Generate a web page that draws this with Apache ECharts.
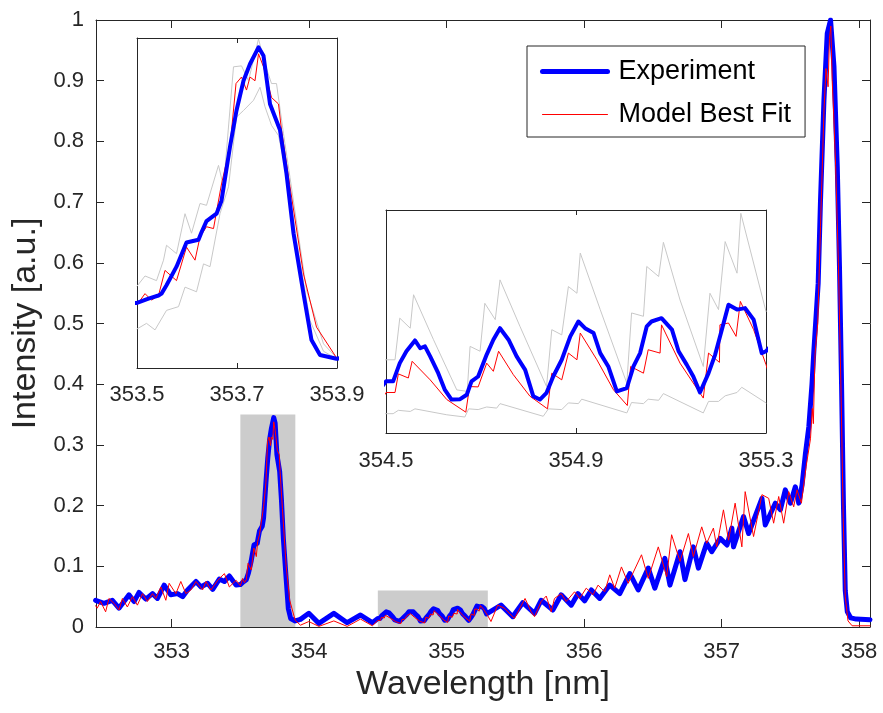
<!DOCTYPE html>
<html>
<head>
<meta charset="utf-8">
<script src="https://cdn.jsdelivr.net/npm/echarts@6.0.0/dist/echarts.min.js"></script>
<style>
  html, body { margin: 0; padding: 0; background: #fff; }
  #main { width: 883px; height: 713px; }
</style>
</head>
<body>
<div id="main"></div>
<script>
// measured spectrum, [wavelength nm, intensity]
var experiment = [
  [352.447,0.044],[352.508,0.039],[352.569,0.044],[352.617,0.031],[352.690,0.053],[352.727,0.042],
  [352.763,0.057],[352.812,0.046],[352.861,0.055],[352.897,0.047],[352.946,0.069],[352.994,0.053],
  [353.043,0.055],[353.080,0.050],[353.116,0.061],[353.177,0.075],[353.213,0.066],[353.262,0.072],
  [353.299,0.062],[353.347,0.079],[353.384,0.075],[353.420,0.084],[353.469,0.069],
  [353.500,0.070],[353.523,0.0746],[353.543,0.078],[353.549,0.080],[353.559,0.089],[353.579,0.109],
  [353.599,0.135],[353.623,0.138],[353.629,0.146],[353.639,0.158],[353.659,0.166],[353.669,0.180],
  [353.686,0.238],[353.699,0.277],[353.713,0.309],[353.726,0.327],[353.743,0.345],[353.753,0.336],
  [353.766,0.284],[353.786,0.256],[353.799,0.209],[353.813,0.145],[353.833,0.080],[353.849,0.030],
  [353.866,0.014],[353.899,0.010],
  [353.937,0.0126],[353.998,0.0225],[354.071,0.006],[354.180,0.0225],[354.277,0.0071],[354.374,0.0198],
  [354.460,0.0071],
  [354.500,0.0139],[354.515,0.0139],[354.529,0.0188],[354.543,0.0220],[354.561,0.0249],[354.572,0.0228],
  [354.582,0.0233],[354.593,0.0206],[354.610,0.0161],[354.624,0.0116],[354.638,0.0090],[354.656,0.0091],
  [354.670,0.0103],[354.680,0.0139],[354.694,0.0152],[354.712,0.0211],[354.726,0.0251],[354.740,0.0282],
  [354.758,0.0251],[354.775,0.0206],[354.793,0.0170],[354.810,0.0099],[354.824,0.0090],[354.838,0.0108],
  [354.852,0.0152],[354.870,0.0197],[354.888,0.0260],[354.905,0.0300],[354.919,0.0282],[354.937,0.0269],
  [354.951,0.0215],[354.968,0.0179],[354.986,0.0112],[355.007,0.0121],[355.021,0.0179],[355.035,0.0215],
  [355.049,0.0287],[355.059,0.0300],[355.080,0.0309],[355.102,0.0278],[355.116,0.0220],[355.133,0.0184],
  [355.147,0.0152],[355.161,0.0109],[355.179,0.0161],[355.193,0.0211],[355.207,0.0278],[355.221,0.0345],
  [355.239,0.0332],[355.256,0.0336],[355.274,0.0305],[355.291,0.0215],[355.300,0.0220],
  [355.396,0.036],[355.481,0.017],[355.554,0.040],[355.640,0.0225],
  [355.688,0.044],[355.773,0.028],[355.834,0.053],[355.907,0.036],[355.956,0.055],[356.004,0.043],
  [356.053,0.061],[356.114,0.047],[356.187,0.069],[356.260,0.055],[356.333,0.088],[356.394,0.061],
  [356.467,0.097],[356.515,0.064],[356.588,0.113],[356.625,0.069],[356.698,0.124],[356.734,0.078],
  [356.795,0.132],[356.832,0.097],[356.892,0.138],[356.929,0.124],[356.990,0.146],[357.040,0.135],
  [357.075,0.163],[357.087,0.132],[357.160,0.182],[357.197,0.154],[357.294,0.212],[357.318,0.168],
  [357.391,0.204],[357.428,0.193],[357.464,0.226],[357.501,0.204],[357.537,0.231],[357.562,0.204],
  [357.586,0.234],
  [357.610,0.285],[357.635,0.330],[357.658,0.400],[357.672,0.456],[357.703,0.566],[357.720,0.703],
  [357.745,0.868],[357.769,0.978],[357.793,1.000],[357.818,0.923],[357.842,0.758],[357.858,0.594],
  [357.873,0.401],[357.887,0.200],[357.900,0.060],[357.915,0.025],[357.940,0.015],[357.980,0.013],
  [358.080,0.012]
];

// best fit of the model
var model = [
  [352.447,0.035],[352.459,0.031],[352.483,0.042],[352.520,0.025],[352.544,0.047],[352.581,0.039],
  [352.617,0.028],[352.642,0.047],[352.678,0.033],[352.715,0.050],[352.751,0.036],[352.788,0.055],
  [352.824,0.042],[352.861,0.055],[352.885,0.047],[352.922,0.066],[352.958,0.044],[352.982,0.072],
  [353.031,0.055],[353.067,0.075],[353.104,0.055],[353.140,0.061],[353.177,0.075],[353.225,0.061],
  [353.250,0.075],[353.286,0.061],[353.335,0.077],[353.384,0.088],[353.420,0.066],[353.469,0.077],
  [353.500,0.068],[353.516,0.080],[353.529,0.073],[353.543,0.078],[353.556,0.105],[353.579,0.094],
  [353.599,0.130],[353.616,0.116],[353.626,0.141],[353.639,0.152],[353.653,0.150],[353.669,0.198],
  [353.686,0.238],[353.698,0.306],[353.709,0.313],[353.719,0.299],[353.726,0.313],[353.736,0.309],
  [353.743,0.338],[353.753,0.324],[353.769,0.291],[353.783,0.284],[353.789,0.256],[353.806,0.195],
  [353.833,0.101],[353.859,0.044],[353.899,0.011],
  [353.937,0.003],[353.998,0.009],[354.071,0.001],[354.180,0.010],[354.277,0.001],[354.374,0.013],
  [354.460,0.002],
  [354.500,0.0109],[354.519,0.0109],[354.526,0.0159],[354.547,0.0148],[354.555,0.0193],[354.593,0.0143],
  [354.628,0.0090],[354.668,0.0056],[354.676,0.0125],[354.694,0.0124],[354.712,0.0188],[354.726,0.0166],
  [354.737,0.0220],[354.768,0.0157],[354.803,0.0099],[354.840,0.0065],[354.849,0.0161],[354.870,0.0143],
  [354.884,0.0215],[354.902,0.0197],[354.909,0.0269],[354.944,0.0197],[354.979,0.0116],[355.008,0.0074],
  [355.015,0.0179],[355.042,0.0161],[355.052,0.0224],[355.077,0.0215],[355.080,0.0291],[355.119,0.0188],
  [355.168,0.0094],[355.179,0.0215],[355.202,0.0190],[355.203,0.0291],[355.221,0.0296],[355.237,0.0260],
  [355.246,0.0354],[355.274,0.0278],[355.300,0.0184],
  [355.323,0.009],[355.372,0.036],[355.421,0.031],[355.494,0.014],[355.571,0.047],[355.615,0.025],
  [355.640,0.017],[355.688,0.042],[355.725,0.051],[355.761,0.025],
  [355.785,0.047],[355.834,0.055],[355.870,0.042],[355.931,0.058],[355.968,0.047],[356.016,0.064],
  [356.065,0.053],[356.102,0.069],[356.150,0.058],[356.187,0.086],[356.223,0.064],[356.272,0.099],
  [356.321,0.072],[356.418,0.119],[356.467,0.080],[356.540,0.132],[356.601,0.083],[356.637,0.152],
  [356.698,0.108],
  [356.759,0.154],[356.795,0.116],[356.856,0.165],[356.892,0.138],[356.941,0.163],[356.965,0.132],
  [357.014,0.193],[357.051,0.143],[357.099,0.204],[357.148,0.132],[357.172,0.223],[357.233,0.149],
  [357.294,0.218],[357.343,0.212],[357.379,0.171],[357.416,0.215],[357.452,0.171],[357.489,0.223],
  [357.525,0.198],[357.549,0.226],[357.581,0.204],
  [357.615,0.264],[357.647,0.310],[357.660,0.360],[357.668,0.335],[357.680,0.450],[357.700,0.500],
  [357.720,0.660],[357.745,0.850],[357.760,0.920],[357.775,0.890],[357.785,0.970],[357.795,0.990],
  [357.805,0.900],[357.815,0.850],[357.830,0.760],[357.850,0.600],[357.870,0.380],[357.885,0.180],
  [357.900,0.050],[357.920,0.010],[357.950,0.002],[358.080,0.002]
];

// grey envelope lines, only shown in the two zooms
var upperBound = [
  [353.500,0.088],[353.516,0.099],[353.539,0.094],[353.553,0.116],[353.559,0.132],[353.579,0.123],
  [353.596,0.166],[353.609,0.145],[353.626,0.177],[353.639,0.175],[353.663,0.218],[353.673,0.195],
  [353.693,0.324],[353.709,0.325],[353.723,0.309],[353.743,0.354],[353.756,0.327],[353.769,0.306],
  [353.779,0.306],[353.793,0.252],[353.806,0.205],[353.839,0.084],[353.873,0.026],[353.899,0.011],
  [354.500,0.0197],[354.519,0.0197],[354.529,0.0309],[354.551,0.0282],[354.558,0.0372],[354.600,0.0251],
  [354.649,0.0116],[354.671,0.0112],[354.677,0.0233],[354.698,0.0220],[354.708,0.0349],[354.730,0.0305],
  [354.740,0.0412],[354.782,0.0287],[354.838,0.0125],[354.849,0.0278],[354.870,0.0264],[354.884,0.0394],
  [354.902,0.0376],[354.909,0.0484],[354.951,0.0332],[355.007,0.0134],[355.017,0.0323],[355.042,0.0314],
  [355.049,0.0448],[355.074,0.0421],[355.084,0.0513],[355.119,0.0358],[355.168,0.0179],[355.182,0.0376],
  [355.200,0.0332],[355.214,0.0515],[355.239,0.0430],[355.247,0.0591],[355.300,0.0327]
];
var lowerBound = [
  [353.500,0.042],[353.519,0.048],[353.536,0.041],[353.559,0.062],[353.583,0.066],[353.596,0.087],
  [353.619,0.082],[353.633,0.112],[353.646,0.109],[353.666,0.166],[353.683,0.195],[353.699,0.270],
  [353.713,0.277],[353.733,0.288],[353.746,0.302],[353.756,0.281],[353.769,0.261],[353.783,0.250],
  [353.799,0.209],[353.819,0.137],[353.846,0.051],[353.873,0.018],[353.899,0.010],
  [354.500,0.0052],[354.515,0.0052],[354.526,0.0061],[354.551,0.0058],[354.561,0.0065],[354.628,0.0049],
  [354.666,0.0043],[354.674,0.0065],[354.694,0.0063],[354.712,0.0070],[354.733,0.0067],[354.740,0.0079],
  [354.831,0.0045],[354.842,0.0065],[354.870,0.0063],[354.884,0.0081],[354.905,0.0079],[354.912,0.0091],
  [355.007,0.0054],[355.017,0.0082],[355.042,0.0079],[355.052,0.0091],[355.074,0.0088],[355.084,0.0106],
  [355.168,0.0054],[355.179,0.0085],[355.200,0.0085],[355.214,0.0100],[355.239,0.0109],[355.249,0.0123],
  [355.300,0.0081]
];

// shaded zoom regions: [from nm, to nm, height]
var zoomBoxes = [[353.5, 353.9, 0.35], [354.5, 355.3, 0.06]];

var mainTicks = [353, 354, 355, 356, 357, 358];
var zoom1Ticks = [353.5, 353.7, 353.9];
var zoom2Ticks = [354.5, 354.9, 355.3];

var ink = '#262626';
var font = "'Liberation Sans', Arial, Helvetica, sans-serif";

/* x axis pair (bottom with labels, top with ticks only) for a grid */
function xAxes(grid, min, max, ticks, tickLen, fontSize, margin, extra) {
    var bottom = {
        type: 'value', gridIndex: grid, min: min, max: max, position: 'bottom',
        axisLine: { show: true, lineStyle: { color: ink, width: 1 } },
        axisTick: { show: true, inside: true, length: tickLen, customValues: ticks, lineStyle: { color: ink } },
        axisLabel: { show: true, customValues: ticks, color: ink, fontSize: fontSize, fontFamily: font, margin: margin,
                     showMinLabel: true, showMaxLabel: true },
        splitLine: { show: false }
    };
    for (var k in extra) bottom[k] = extra[k];
    var top = {
        type: 'value', gridIndex: grid, min: min, max: max, position: 'top',
        axisLine: { show: true, onZero: false, lineStyle: { color: ink, width: 1 } },
        axisTick: { show: true, inside: true, length: tickLen, customValues: ticks, lineStyle: { color: ink } },
        axisLabel: { show: false },
        splitLine: { show: false }
    };
    return [bottom, top];
}

function yAxes(grid, min, max, withTicks, extra) {
    var left = {
        type: 'value', gridIndex: grid, min: min, max: max, position: 'left',
        axisLine: { show: true, onZero: false, lineStyle: { color: ink, width: 1 } },
        axisTick: { show: false },
        axisLabel: { show: false },
        splitLine: { show: false }
    };
    var right = {
        type: 'value', gridIndex: grid, min: min, max: max, position: 'right',
        axisLine: { show: true, onZero: false, lineStyle: { color: ink, width: 1 } },
        axisTick: { show: false },
        axisLabel: { show: false },
        splitLine: { show: false }
    };
    if (withTicks) {
        left.interval = 0.1;
        right.interval = 0.1;
        left.axisTick = { show: true, inside: true, length: 8, lineStyle: { color: ink } };
        right.axisTick = { show: true, inside: true, length: 8, lineStyle: { color: ink } };
        left.axisLabel = {
            show: true, color: ink, fontSize: 22, fontFamily: font, margin: 12,
            formatter: function (v) { return String(+v.toFixed(1)); }
        };
    }
    for (var k in extra) left[k] = extra[k];
    return [left, right];
}

var xAxis = []
    .concat(xAxes(0, 352.45, 358.08, mainTicks, 8, 22, 14, {
        name: 'Wavelength [nm]', nameLocation: 'middle', nameGap: 40,
        nameTextStyle: { fontSize: 34, color: ink, fontFamily: font }
    }))
    .concat(xAxes(1, 353.5, 353.9, zoom1Ticks, 5, 22, 16, {}))
    .concat(xAxes(2, 354.5, 355.3, zoom2Ticks, 5, 22, 17, {}));

var yAxis = []
    .concat(yAxes(0, 0, 1, true, {
        name: 'Intensity [a.u.]', nameLocation: 'middle', nameGap: 50,
        nameTextStyle: { fontSize: 34, color: ink, fontFamily: font }
    }))
    .concat(yAxes(1, 0, 0.355, false, {}))
    .concat(yAxes(2, 0, 0.06, false, {}));

function lineSeries(name, data, grid, color, width, z) {
    return {
        name: name, type: 'line', data: data,
        xAxisIndex: grid * 2, yAxisIndex: grid * 2,
        showSymbol: false, symbol: 'none', clip: true, z: z,
        lineStyle: { color: color, width: width, join: 'round', cap: 'round' },
        itemStyle: { color: color },
        emphasis: { disabled: true }, silent: true
    };
}

var blueMain = lineSeries('Experiment', experiment, 0, '#0000ff', 5, 2);
blueMain.markArea = {
    silent: true,
    itemStyle: { color: '#cccccc', opacity: 1 },
    data: zoomBoxes.map(function (b) {
        return [{ xAxis: b[0], yAxis: 0 }, { xAxis: b[1], yAxis: b[2] }];
    })
};

var series = [
    blueMain,
    lineSeries('Model Best Fit', model, 0, '#ff0000', 1, 3),

    lineSeries('upper1', upperBound, 1, '#c8c8c8', 1, 2),
    lineSeries('lower1', lowerBound, 1, '#c8c8c8', 1, 2),
    lineSeries('Model Best Fit', model, 1, '#ff0000', 1, 3),
    lineSeries('Experiment', experiment, 1, '#0000ff', 4, 4),

    lineSeries('upper2', upperBound, 2, '#c8c8c8', 1, 2),
    lineSeries('lower2', lowerBound, 2, '#c8c8c8', 1, 2),
    lineSeries('Model Best Fit', model, 2, '#ff0000', 1, 3),
    lineSeries('Experiment', experiment, 2, '#0000ff', 4, 4)
];

var option = {
    animation: false,
    backgroundColor: '#ffffff',
    grid: [
        { left: 96, top: 20, width: 774, height: 607, show: false },
        { left: 137, top: 38, width: 200, height: 330, show: true, backgroundColor: '#ffffff', borderWidth: 0 },
        { left: 386, top: 210, width: 380, height: 223, show: true, backgroundColor: '#ffffff', borderWidth: 0 }
    ],
    legend: {
        orient: 'vertical', left: 527, top: 46,
        data: [
            { name: 'Experiment', lineStyle: { width: 5, color: '#0000ff' }, itemStyle: { opacity: 0 } },
            { name: 'Model Best Fit', lineStyle: { width: 1, color: '#ff0000' }, itemStyle: { opacity: 0 } }
        ],
        itemWidth: 65, itemHeight: 20, itemGap: 16,
        padding: [12, 14, 9, 13],
        borderColor: ink, borderWidth: 1, backgroundColor: '#ffffff',
        selectedMode: false,
        textStyle: { fontSize: 27, color: '#000', fontFamily: font, padding: [0, 0, 0, 6] }
    },
    xAxis: xAxis,
    yAxis: yAxis,
    series: series
};

var chart = echarts.init(document.getElementById('main'), null, { renderer: 'canvas' });
chart.setOption(option);
</script>
</body>
</html>
